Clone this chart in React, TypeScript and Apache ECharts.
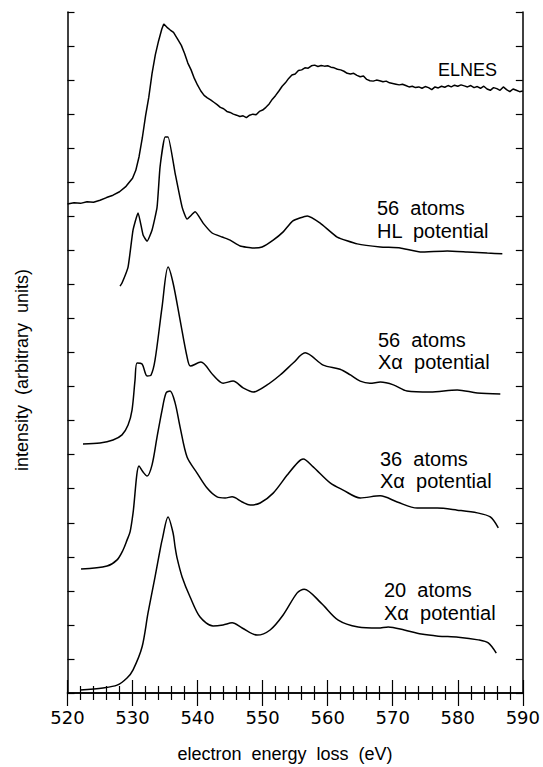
import React, { useEffect, useRef } from "react";
import * as echarts from "echarts";

const xTicks = [520, 530, 540, 550, 560, 570, 580, 590];

const elnes: [number, number][] = [
  [520, 14.36], [521, 14.4], [522, 14.38], [523, 14.43], [524, 14.41], [525, 14.47], [526, 14.55],
  [527, 14.62], [528, 14.72], [529, 14.88], [530, 15.12], [530.5, 15.35], [531, 15.75], [531.5, 16.3],
  [532, 16.95], [532.5, 17.5], [533, 18.2], [533.5, 18.74], [534, 19.15], [534.5, 19.5], [534.8, 19.65],
  [535.3, 19.55], [535.8, 19.47], [536.3, 19.4], [537, 19.18], [537.5, 19.02], [538, 18.78], [538.5, 18.5],
  [539, 18.3], [539.5, 18.05], [540, 17.85], [540.5, 17.68], [541, 17.55], [541.5, 17.48], [542, 17.42],
  [542.5, 17.35], [543, 17.28], [543.5, 17.2], [544, 17.16], [544.5, 17.08], [545, 17.05], [545.5, 17.0],
  [546, 16.97], [546.5, 16.93], [547, 16.95], [547.5, 16.9], [548, 16.97], [548.5, 17.0], [549, 16.98],
  [549.5, 17.08], [550, 17.12], [550.5, 17.2], [551, 17.3], [551.5, 17.44], [552, 17.55], [552.5, 17.68],
  [553, 17.82], [553.5, 17.92], [554, 18.05], [554.5, 18.15], [555, 18.18], [555.5, 18.28], [556, 18.3],
  [556.5, 18.36], [557, 18.35], [557.5, 18.42], [558, 18.44], [558.5, 18.4], [559, 18.43], [559.5, 18.41],
  [560, 18.42], [560.5, 18.38], [561, 18.36], [561.5, 18.32], [562, 18.3], [562.5, 18.26], [563, 18.2],
  [563.5, 18.18], [564, 18.2], [564.5, 18.14], [565, 18.1], [565.5, 18.12], [566, 18.02], [566.5, 17.98],
  [567, 17.97], [567.5, 18.0], [568, 17.98], [568.5, 17.95], [569, 17.97], [569.5, 17.92], [570, 17.9],
  [570.5, 17.88], [571, 17.86], [571.5, 17.88], [572, 17.84], [572.5, 17.8], [573, 17.82], [573.5, 17.78],
  [574, 17.8], [574.5, 17.76], [575, 17.81], [575.5, 17.78], [576, 17.72], [576.5, 17.8], [577, 17.77],
  [577.5, 17.82], [578, 17.79], [578.5, 17.84], [579, 17.8], [579.5, 17.85], [580, 17.82], [580.5, 17.86],
  [581, 17.83], [581.5, 17.8], [582, 17.84], [582.5, 17.78], [583, 17.81], [583.5, 17.76], [584, 17.82],
  [584.5, 17.74], [585, 17.7], [585.5, 17.78], [586, 17.75], [586.5, 17.7], [587, 17.8], [587.5, 17.72],
  [588, 17.66], [588.5, 17.74], [589, 17.7], [589.5, 17.66], [590, 17.68],
];

const hl56: [number, number][] = [
  [528.08, 11.95], [528.38, 12.04], [529.31, 12.51], [530.08, 13.6], [530.85, 14.1], [531.62, 13.45],
  [532.23, 13.27], [533.0, 13.6], [533.77, 14.27], [534.23, 15.45], [535.0, 16.33], [535.46, 16.33],
  [536.54, 15.27], [537.62, 14.27], [538.38, 13.92], [539.62, 14.13], [540.85, 13.8], [542.23, 13.51],
  [543.77, 13.39], [545.0, 13.3], [546.54, 13.13], [548.54, 13.07], [549.92, 13.1], [551.62, 13.3],
  [553.2, 13.55], [554.6, 13.86], [556.85, 14.01], [558.85, 13.8], [561.46, 13.39], [564.54, 13.19],
  [568.08, 13.1], [571.15, 13.07], [574.23, 12.95], [578.38, 12.98], [581.46, 12.95], [584.54, 12.92],
  [586.85, 12.9],
];

const xa56: [number, number][] = [
  [522.38, 7.31], [525.0, 7.34], [527.0, 7.43], [528.38, 7.58], [529.31, 7.87], [529.92, 8.31],
  [530.38, 9.19], [530.69, 9.69], [531.46, 9.66], [532.23, 9.31], [532.85, 9.34], [533.46, 9.78],
  [534.54, 11.34], [535.46, 12.51], [536.23, 12.04], [537.31, 10.95], [538.38, 9.87], [538.9, 9.6],
  [540.5, 9.72], [542.38, 9.34], [543.92, 9.1], [545.46, 9.16], [547.0, 8.96], [548.54, 8.84],
  [550.69, 9.05], [552.69, 9.34], [554.69, 9.69], [556.54, 9.99], [559.31, 9.63], [561.9, 9.51],
  [563.5, 9.34], [565.0, 9.16], [566.5, 9.1], [568.1, 9.13], [570.1, 9.05], [572.2, 8.87],
  [575.77, 8.84], [579.92, 8.9], [583.0, 8.81], [586.54, 8.78],
];

const xa36: [number, number][] = [
  [522.08, 3.64], [526.08, 3.73], [527.62, 3.91], [528.54, 4.2], [529.15, 4.49], [529.62, 4.73],
  [530.08, 5.29], [531.0, 6.67], [531.62, 6.49], [532.23, 6.37], [533.0, 6.7], [533.77, 7.52],
  [534.54, 8.31], [535.15, 8.81], [535.77, 8.87], [536.54, 8.52], [537.31, 7.81], [538.38, 6.93],
  [539.92, 6.46], [541.46, 6.02], [543.0, 5.76], [544.23, 5.73], [545.31, 5.76], [546.85, 5.61],
  [548.08, 5.52], [549.62, 5.58], [551.62, 5.87], [553.77, 6.4], [555.46, 6.78], [556.23, 6.87],
  [557.77, 6.64], [560.38, 6.17], [562.38, 5.96], [565.0, 5.73], [568.08, 5.79], [570.69, 5.61],
  [573.77, 5.43], [576.85, 5.43], [579.92, 5.37], [583.0, 5.29], [585.0, 5.17], [586.23, 4.85],
];

const xa20: [number, number][] = [
  [521.92, 0.09], [525.46, 0.15], [527.62, 0.23], [529.15, 0.44], [530.08, 0.68], [531.46, 1.35],
  [532.38, 2.35], [533.46, 3.41], [534.23, 4.2], [534.54, 4.49], [535.46, 5.17], [536.23, 4.7],
  [536.54, 4.29], [536.85, 3.96], [537.62, 3.41], [538.85, 2.82], [540.38, 2.23], [542.38, 1.97],
  [543.92, 2.0], [545.31, 2.06], [546.85, 1.91], [549.15, 1.7], [551.15, 1.85], [553.15, 2.29],
  [555.31, 2.94], [556.38, 3.05], [559.0, 2.64], [561.62, 2.14], [564.69, 1.94], [567.77, 1.91],
  [569.31, 1.94], [571.77, 1.85], [574.38, 1.73], [577.0, 1.67], [580.08, 1.64], [583.15, 1.56],
  [584.69, 1.47], [585.92, 1.17],
];

const FONT = "'Liberation Sans', Arial, sans-serif";

export default function App() {
  const ref = useRef<HTMLDivElement>(null);
  useEffect(() => {
    if (!ref.current) return;
    const chart = echarts.init(ref.current, null, { renderer: "svg" });
    const axisLine = { show: true, lineStyle: { color: "#000", width: 1.5 } };
    const xCommon = {
      type: "value" as const,
      min: xTicks[0],
      max: xTicks[xTicks.length - 1],
      interval: 10,
      axisLine,
      axisTick: { show: true, inside: true, length: 13, lineStyle: { color: "#000", width: 1.2 } },
      minorTick: { show: true, splitNumber: 5, length: 7, lineStyle: { color: "#000", width: 1.2 } },
      splitLine: { show: false },
      minorSplitLine: { show: false },
    };
    const yCommon = {
      type: "value" as const,
      min: 0,
      max: 20,
      interval: 1,
      axisLine,
      axisTick: { show: true, inside: true, length: 7, lineStyle: { color: "#000", width: 1.2 } },
      axisLabel: { show: false },
      splitLine: { show: false },
    };
    const mk = (data: [number, number][], smooth: number | boolean) => ({
      type: "line",
      data,
      showSymbol: false,
      smooth,
      lineStyle: { color: "#000", width: 1.5 },
      itemStyle: { color: "#000" },
      z: 3,
    });
    const txt = (x: number, y: number, text: string, size = 20) => ({
      type: "text",
      x,
      y,
      style: {
        text,
        font: `${size}px ${FONT}`,
        fill: "#000",
        textAlign: "left",
        textVerticalAlign: "middle",
      },
    });
    chart.setOption({
      animation: false,
      backgroundColor: "#fff",
      grid: { left: 67.5, right: 20, top: 12, bottom: 74, containLabel: false },
      xAxis: [
        {
          ...xCommon,
          position: "bottom",
          axisLabel: { show: true, fontSize: 18, color: "#000", margin: 15, fontFamily: "'DejaVu Sans', sans-serif" },
        },
        { ...xCommon, position: "top", axisLabel: { show: false } },
      ],
      yAxis: [
        { ...yCommon, position: "left" },
        { ...yCommon, position: "right" },
      ],
      series: [
        mk(elnes, false),
        mk(hl56, 0.15),
        mk(xa56, 0.3),
        mk(xa36, 0.3),
        mk(xa20, 0.3),
      ],
      graphic: [
        txt(438, 70, "ELNES", 18),
        txt(377, 208, "56  atoms"),
        txt(377, 231, "HL  potential"),
        txt(378, 340, "56  atoms"),
        txt(378, 362, "Xα  potential"),
        txt(380, 459, "36  atoms"),
        txt(380, 481, "Xα  potential"),
        txt(384, 590, "20  atoms"),
        txt(384, 613, "Xα  potential"),
        {
          type: "text",
          x: 285,
          y: 754,
          style: {
            text: "electron  energy  loss  (eV)",
            font: `18px ${FONT}`,
            fill: "#000",
            textAlign: "center",
            textVerticalAlign: "middle",
          },
        },
        {
          type: "text",
          x: 22,
          y: 370,
          rotation: Math.PI / 2,
          style: {
            text: "intensity  (arbitrary  units)",
            font: `18px ${FONT}`,
            fill: "#000",
            textAlign: "center",
            textVerticalAlign: "middle",
          },
        },
      ],
    });
    return () => chart.dispose();
  }, []);
  return (
    <div
      ref={ref}
      style={{ position: "fixed", left: 0, top: 0, width: 543, height: 767, background: "#fff" }}
    />
  );
}
